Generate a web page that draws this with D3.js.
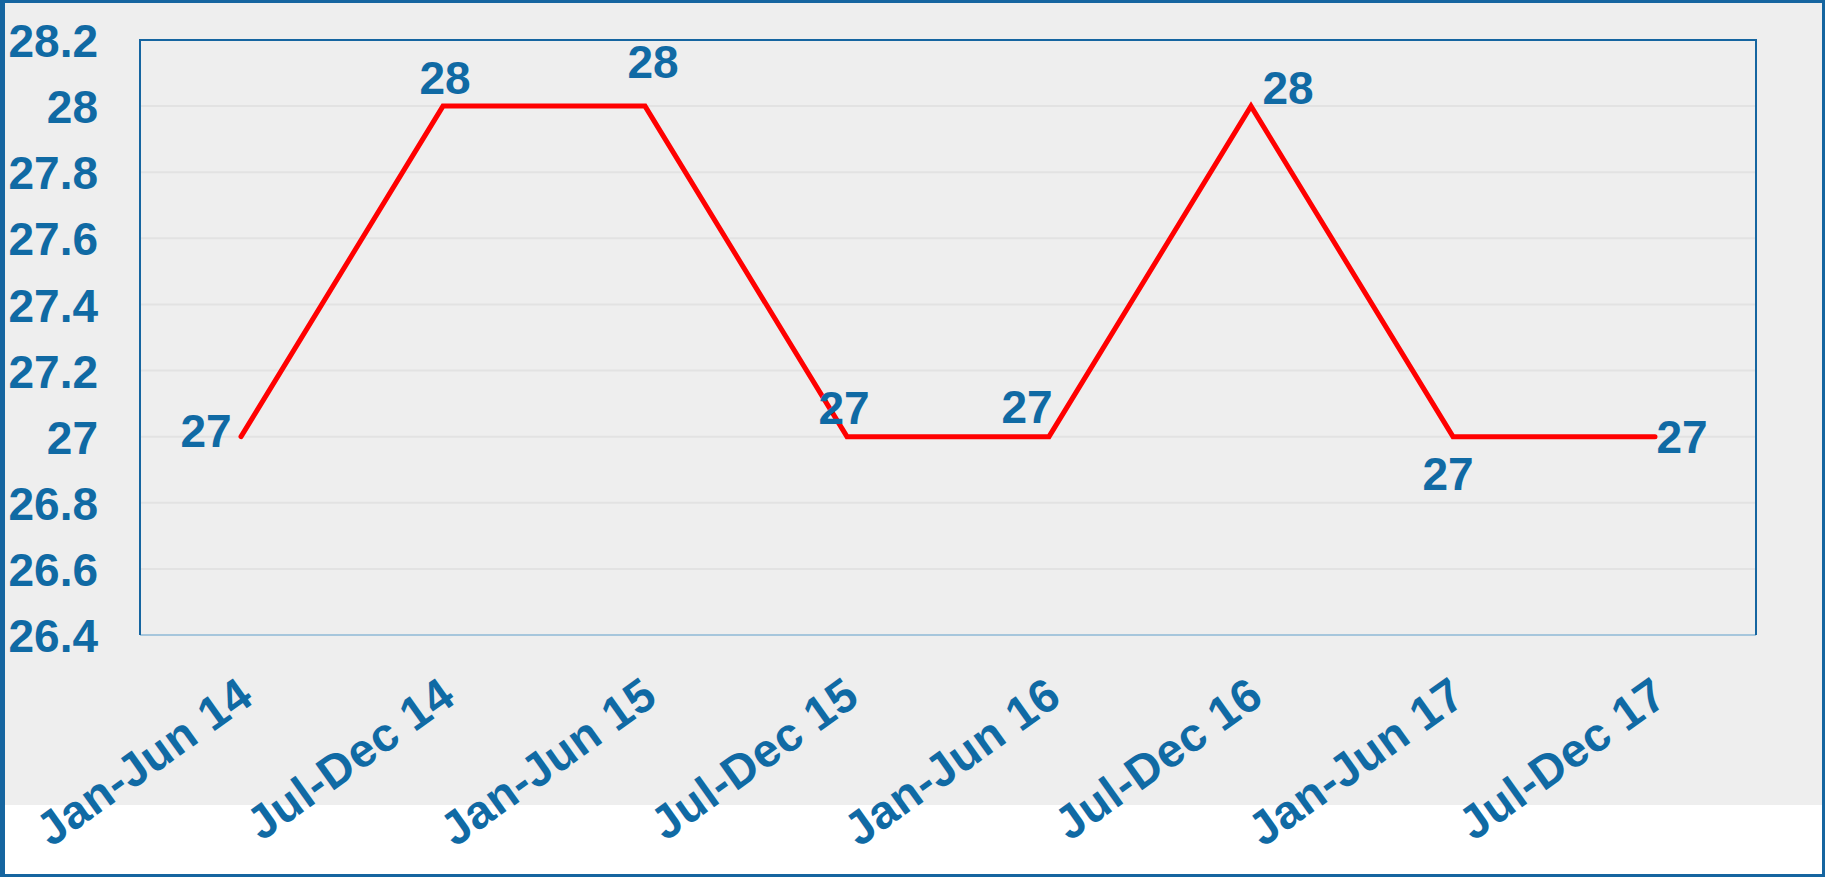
<!DOCTYPE html>
<html>
<head>
<meta charset="utf-8">
<script src="https://cdn.jsdelivr.net/npm/d3@7"></script>
<style>
  html, body { margin: 0; padding: 0; background: #ffffff; }
  svg { display: block; }
</style>
</head>
<body>
<div id="chart"></div>
<script>
// Half-year line chart, Excel style
const categories = ['Jan-Jun 14', 'Jul-Dec 14', 'Jan-Jun 15', 'Jul-Dec 15',
                    'Jan-Jun 16', 'Jul-Dec 16', 'Jan-Jun 17', 'Jul-Dec 17'];
const values = [27, 28, 28, 27, 27, 28, 27, 27];
const yTicks = [26.4, 26.6, 26.8, 27, 27.2, 27.4, 27.6, 27.8, 28, 28.2];

// data label offsets from their point (layout only)
const labelOffsets = [[-35, 10], [2, -12], [8, -28], [-3, -13],
                      [-22, -14], [37, -2], [-5, 53], [27, 16]];

const W = 1825, H = 877;
const BLUE = '#106aa4';
const FONT = '"Liberation Sans", Arial, sans-serif';
const plot = { left: 140, top: 40, right: 1756, bottom: 635 };

const svg = d3.select('#chart').append('svg')
  .attr('width', W)
  .attr('height', H);

// backgrounds
svg.append('rect').attr('width', W).attr('height', H).attr('fill', '#ffffff');
svg.append('rect').attr('width', W).attr('height', 805).attr('fill', '#eeeeee');

const x = d3.scaleBand()
  .domain(categories)
  .range([plot.left, plot.right]);
const y = d3.scaleLinear()
  .domain([26.4, 28.2])
  .range([plot.bottom, plot.top]);

// gridlines
svg.append('g')
  .selectAll('line')
  .data(yTicks.slice(1, -1))
  .join('line')
  .attr('x1', plot.left)
  .attr('x2', plot.right)
  .attr('y1', function(d) { return y(d); })
  .attr('y2', function(d) { return y(d); })
  .attr('stroke', '#e2e2e2')
  .attr('stroke-width', 2);

// plot frame
svg.append('line')
  .attr('x1', plot.left).attr('x2', plot.right)
  .attr('y1', plot.bottom).attr('y2', plot.bottom)
  .attr('stroke', '#a6c6dc').attr('stroke-width', 2);
svg.append('path')
  .attr('d', 'M' + plot.left + ',' + plot.bottom + 'V' + plot.top + 'H' + plot.right + 'V' + plot.bottom)
  .attr('fill', 'none')
  .attr('stroke', '#1565a0')
  .attr('stroke-width', 2);

// y axis labels
const yAxis = d3.axisLeft(y)
  .tickValues(yTicks)
  .tickSize(0)
  .tickPadding(0)
  .tickFormat(d3.format('~g'));
const yG = svg.append('g')
  .attr('transform', 'translate(98,0)')
  .call(yAxis);
yG.select('.domain').remove();
yG.selectAll('text')
  .attr('x', 0)
  .attr('dy', '0.36em')
  .attr('fill', BLUE)
  .attr('font-size', 46)
  .attr('font-weight', 'bold')
  .attr('font-family', FONT);

// x axis labels, rotated
const xAxis = d3.axisBottom(x).tickSize(0).tickPadding(0);
const xG = svg.append('g')
  .attr('transform', 'translate(0,688)')
  .call(xAxis);
xG.select('.domain').remove();
xG.selectAll('.tick text')
  .attr('y', 0)
  .attr('x', 0)
  .attr('dy', '0.36em')
  .attr('text-anchor', 'end')
  .attr('transform', 'translate(5,0) rotate(-35.5)')
  .attr('fill', BLUE)
  .attr('font-size', 47)
  .attr('letter-spacing', 0.6)
  .attr('font-weight', 'bold')
  .attr('font-family', FONT);

// line
const cx = function(i) { return x(categories[i]) + x.bandwidth() / 2; };
const line = d3.line()
  .x(function(d, i) { return cx(i); })
  .y(function(d) { return y(d); });

svg.append('path')
  .datum(values)
  .attr('d', line)
  .attr('fill', 'none')
  .attr('stroke', '#ff0000')
  .attr('stroke-width', 5)
  .attr('stroke-linejoin', 'miter')
  .attr('stroke-linecap', 'round');

// data labels
svg.append('g')
  .selectAll('text')
  .data(values)
  .join('text')
  .attr('x', function(d, i) { return cx(i) + labelOffsets[i][0]; })
  .attr('y', function(d, i) { return y(d) + labelOffsets[i][1]; })
  .attr('text-anchor', 'middle')
  .attr('fill', BLUE)
  .attr('font-size', 46)
  .attr('font-weight', 'bold')
  .attr('font-family', FONT)
  .text(function(d) { return d; });

// outer border
svg.append('rect')
  .attr('x', 1.5).attr('y', 1.5)
  .attr('width', W - 3).attr('height', H - 3)
  .attr('fill', 'none')
  .attr('stroke', '#1565a0')
  .attr('stroke-width', 3);
svg.append('rect')
  .attr('x', 3).attr('y', 0)
  .attr('width', 2).attr('height', H)
  .attr('fill', '#1565a0');
</script>
</body>
</html>
